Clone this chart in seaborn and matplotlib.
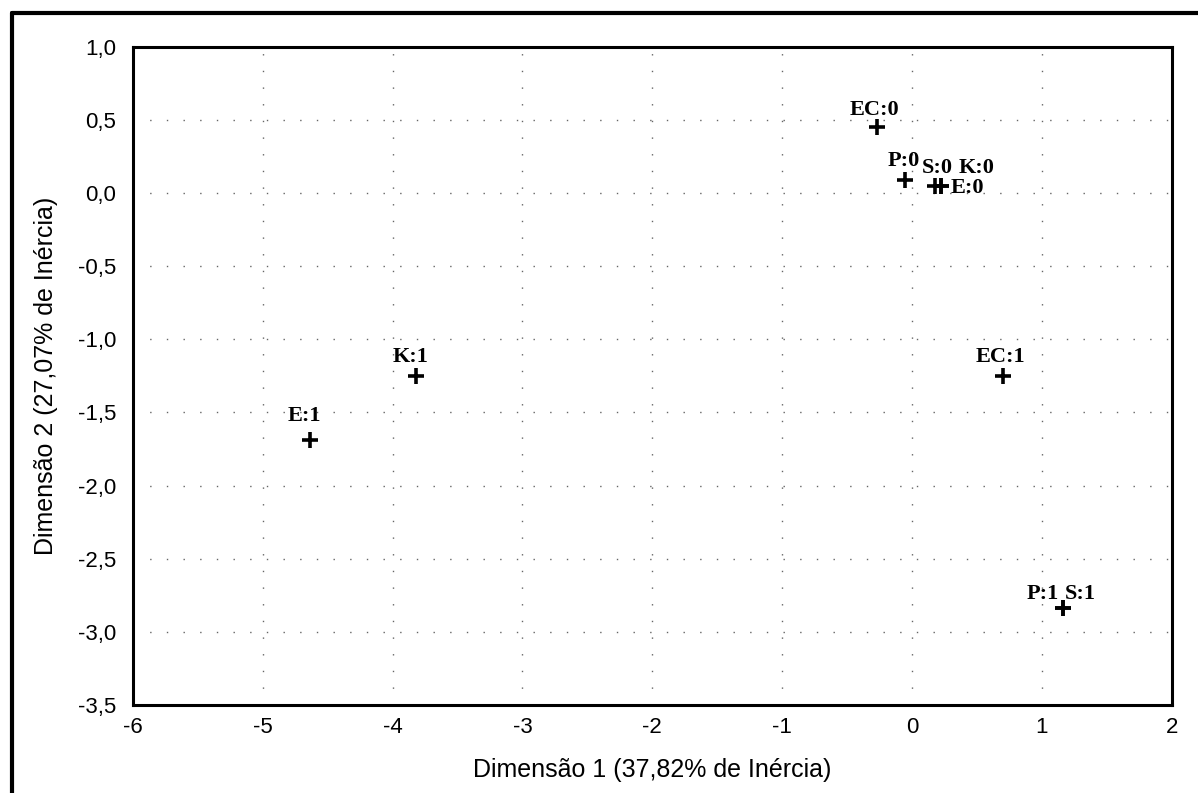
import numpy as np
import pandas as pd
import matplotlib
matplotlib.use("Agg")
import matplotlib.pyplot as plt
import seaborn as sns
from matplotlib.ticker import FuncFormatter

# coordenadas das categorias
categorias = ["EC:0", "P:0", "S:0", "K:0", "E:0", "EC:1", "P:1", "S:1", "K:1", "E:1"]
dim1 = [-0.27, -0.05, 0.175, 0.22, 0.22, 0.70, 1.16, 1.16, -3.82, -4.64]
dim2 = [0.45, 0.09, 0.05, 0.05, 0.05, -1.25, -2.84, -2.84, -1.25, -1.69]

xticks = np.arange(-6, 3, 1)
yticks = np.arange(-3.5, 1.01, 0.5)

# deslocamento dos rotulos em pontos (so estilo)
offsets = {"EC:0": (-1.5, 9, "center"), "P:0": (-1, 10, "center"), "S:0": (-9, 9.5, "left"),
           "K:0": (13, 9.5, "left"), "E:0": (7, -5.5, "left"), "EC:1": (-1.5, 10, "center"),
           "P:1": (-14, 7, "center"), "S:1": (13, 7, "center"), "K:1": (-4, 10, "center"),
           "E:1": (-3.5, 14, "center")}

df = pd.DataFrame({"Dim1": dim1, "Dim2": dim2, "cat": categorias})

sns.set_style("white")
plt.rcParams['font.family'] = ['Liberation Sans', 'DejaVu Sans']
plt.rcParams['axes.unicode_minus'] = False
plt.rcParams['text.color'] = 'black'
plt.rcParams['axes.labelcolor'] = 'black'
plt.rcParams['xtick.color'] = 'black'
plt.rcParams['ytick.color'] = 'black'

fig = plt.figure(figsize=(11.98, 7.93), dpi=100)
ax = fig.add_axes([0.111, 0.111, 0.867, 0.830])

sns.scatterplot(data=df, x="Dim1", y="Dim2", marker="+", s=130, color="black",
                linewidth=2.6, ax=ax, zorder=3)

for c, x, y in zip(categorias, dim1, dim2):
    dx, dy, ha = offsets[c]
    ax.annotate(c, (x, y), xytext=(dx, dy), textcoords="offset points",
                ha=ha, va="baseline", fontsize=16, fontweight="bold",
                family=["Liberation Serif", "DejaVu Serif"], color="black")

ax.set_xlim(-6, 2)
ax.set_ylim(-3.5, 1.0)
ax.set_xticks(xticks)
ax.set_yticks(yticks)
ax.yaxis.set_major_formatter(FuncFormatter(lambda v, p: f"{v:.1f}".replace(".", ",")))
ax.grid(True, color="#666666", linestyle=(0, (1, 11)), linewidth=1.0)
ax.tick_params(axis="x", labelsize=16, length=0, pad=9)
ax.tick_params(axis="y", labelsize=16, length=0, pad=12)
for s in ax.spines.values():
    s.set_linewidth(2.2)
    s.set_color("black")

ax.set_xlabel("Dimensão 1 (37,82% de Inércia)", fontsize=18, labelpad=14)
ax.set_ylabel("Dimensão 2 (27,07% de Inércia)", fontsize=18, labelpad=14)

# moldura exterior
fig.add_artist(plt.Line2D([0.01, 1.0], [0.984, 0.984], transform=fig.transFigure,
                          color="black", linewidth=3))
fig.add_artist(plt.Line2D([0.01, 0.01], [0.0, 0.984], transform=fig.transFigure,
                          color="black", linewidth=3))

fig.savefig("out.png", dpi=100)
